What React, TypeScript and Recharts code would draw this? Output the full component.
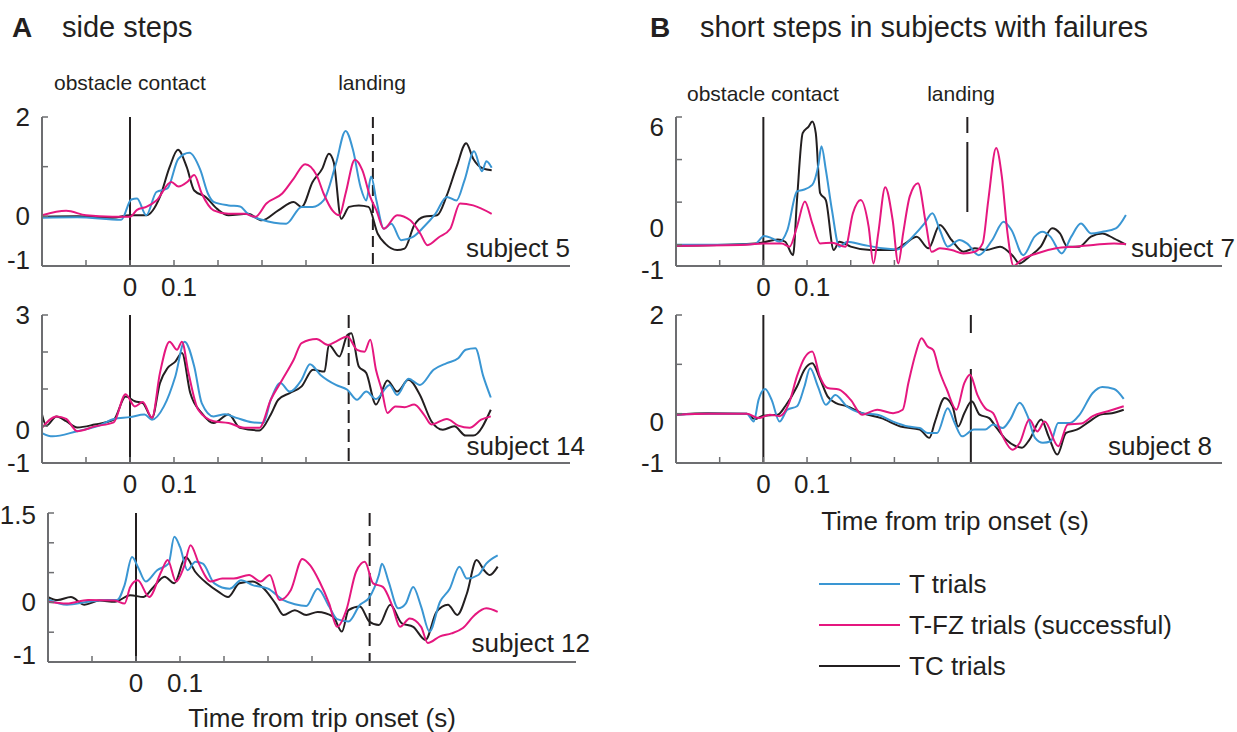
import { LineChart, Line, XAxis, YAxis, ReferenceLine } from "recharts"

const BLUE = "#3a96d3"
const PINK = "#e5177f"
const BLACK = "#231f20"
const AXIS = "#6d6e71"
const TEXT = "#231f20"
const FONT = "'Liberation Sans', Arial, Helvetica, sans-serif"

type Pt = [number, number]

// shared x ticks (s), only 0 and 0.1 get a label
const xTicks = [-0.2, -0.1, 0, 0.1, 0.2, 0.3, 0.4]
const xTickLabels = ["", "", "0", "0.1", "", "", ""]

// ---------- subject 5 (side steps) ----------
const s5T: Pt[] = [[-0.2,-0.03],[-0.12,-0.02],[-0.02,-0.07],[0.003,0.34],[0.016,0.36],[0.037,0.02],[0.06,0.49],[0.085,0.56],[0.11,1.16],[0.135,1.28],[0.16,0.93],[0.177,0.46],[0.19,0.29],[0.224,0.22],[0.25,0.2],[0.268,0.05],[0.3,-0.07],[0.355,-0.15],[0.39,0.19],[0.415,0.19],[0.44,0.32],[0.468,1.06],[0.49,1.72],[0.507,1.33],[0.524,0.59],[0.537,0.32],[0.548,0.8],[0.56,0.32],[0.577,-0.25],[0.594,-0.15],[0.616,-0.48],[0.642,-0.42],[0.668,-0.21],[0.694,0.05],[0.72,0.39],[0.742,0.32],[0.76,0.72],[0.782,1.31],[0.8,0.91],[0.81,1.11],[0.822,0.98]]
const s5FZ: Pt[] = [[-0.2,0.02],[-0.145,0.11],[-0.1,0.02],[-0.04,-0.01],[0,-0.01],[0.016,0.13],[0.037,0.19],[0.06,0.32],[0.094,0.69],[0.11,0.6],[0.13,0.69],[0.146,0.83],[0.163,0.46],[0.19,0.12],[0.224,0.05],[0.26,0.05],[0.285,-0.01],[0.31,0.26],[0.346,0.46],[0.372,0.76],[0.398,1.05],[0.424,0.83],[0.44,0.46],[0.46,0.12],[0.476,0.02],[0.49,0.46],[0.511,1.14],[0.528,0.93],[0.546,0.39],[0.56,0.12],[0.577,-0.25],[0.607,0.02],[0.637,-0.08],[0.66,-0.35],[0.676,-0.58],[0.702,-0.42],[0.728,-0.25],[0.75,0.26],[0.78,0.22],[0.822,0.05]]
const s5TC: Pt[] = [[-0.2,-0.01],[-0.12,0],[-0.04,-0.03],[0,0.02],[0.037,0.02],[0.068,0.39],[0.09,0.99],[0.109,1.34],[0.129,0.99],[0.146,0.52],[0.172,0.39],[0.198,0.15],[0.224,0.02],[0.268,0.05],[0.3,-0.08],[0.337,0.12],[0.372,0.29],[0.39,0.19],[0.415,0.69],[0.437,0.96],[0.452,1.26],[0.463,1.09],[0.48,-0.05],[0.498,0.19],[0.52,0.22],[0.542,0.19],[0.563,-0.35],[0.58,-0.55],[0.607,-0.68],[0.624,-0.65],[0.646,-0.18],[0.668,-0.01],[0.698,0.02],[0.72,0.42],[0.742,0.99],[0.764,1.47],[0.78,1.16],[0.803,0.96],[0.822,0.93]]
const s5YTicks = [-1, 0, 1, 2]
const s5YLabels = ["-1", "0", "", "2"]

// ---------- subject 14 ----------
const s14T: Pt[] = [[-0.2,-0.19],[-0.176,-0.28],[-0.12,-0.14],[-0.07,0.01],[-0.037,0.19],[0,0.24],[0.033,0.31],[0.05,0.17],[0.077,0.53],[0.103,1.34],[0.124,2.28],[0.146,1.61],[0.163,0.62],[0.19,0.26],[0.216,0.32],[0.242,0.22],[0.277,0.1],[0.303,0.08],[0.32,0.71],[0.342,1.16],[0.363,0.93],[0.39,1.25],[0.409,1.67],[0.433,1.38],[0.468,1.11],[0.494,0.98],[0.516,0.71],[0.537,0.93],[0.559,0.73],[0.59,1.11],[0.607,0.84],[0.633,1.28],[0.659,1.11],[0.69,1.52],[0.72,1.7],[0.746,1.83],[0.763,2.06],[0.785,2.1],[0.803,1.34],[0.82,0.77]]
const s14FZ: Pt[] = [[-0.2,-0.05],[-0.167,0.26],[-0.145,0.19],[-0.12,-0.14],[-0.08,-0.01],[-0.037,0.1],[-0.01,0.86],[0.011,0.53],[0.029,0.65],[0.05,0.22],[0.068,1.43],[0.09,2.28],[0.107,2.06],[0.118,2.28],[0.133,1.43],[0.155,0.44],[0.19,0.13],[0.224,0.08],[0.26,-0.05],[0.294,-0.05],[0.32,0.71],[0.346,1.25],[0.372,1.79],[0.39,2.24],[0.424,2.35],[0.45,2.19],[0.468,2.28],[0.494,2.42],[0.516,2.06],[0.533,2.01],[0.546,2.33],[0.559,1.52],[0.572,0.98],[0.585,0.35],[0.603,0.53],[0.624,0.51],[0.646,0.58],[0.668,0.31],[0.685,0.04],[0.72,0.19],[0.746,0.01],[0.772,-0.05],[0.798,0.17],[0.82,0.26]]
const s14TC: Pt[] = [[-0.2,0.31],[-0.19,0.01],[-0.167,0.26],[-0.145,0.13],[-0.12,-0.04],[-0.08,0.04],[-0.037,0.17],[-0.01,0.8],[0.011,0.67],[0.029,0.62],[0.05,0.22],[0.068,1.16],[0.085,1.56],[0.103,1.74],[0.118,1.97],[0.137,0.89],[0.163,0.35],[0.19,0.08],[0.224,0.31],[0.25,-0.05],[0.294,-0.12],[0.32,0.31],[0.337,0.71],[0.363,0.89],[0.39,1.07],[0.416,1.52],[0.442,1.47],[0.452,2.19],[0.476,1.88],[0.494,2.46],[0.503,2.51],[0.52,1.61],[0.537,1.43],[0.559,0.58],[0.585,1.23],[0.607,0.93],[0.633,1.25],[0.659,0.84],[0.685,0.13],[0.711,-0.1],[0.737,-0.01],[0.763,-0.26],[0.78,-0.26],[0.82,0.44]]
const s14YTicks = [-1, 0, 1, 2, 3]
const s14YLabels = ["-1", "0", "", "", "3"]

// ---------- subject 12 ----------
const s12T: Pt[] = [[-0.2,0.05],[-0.157,-0.04],[-0.109,0.01],[-0.065,0.04],[-0.043,0.04],[-0.026,0.29],[-0.009,0.76],[0.004,0.6],[0.022,0.35],[0.048,0.54],[0.074,0.65],[0.087,1.1],[0.1,0.93],[0.117,0.54],[0.135,0.68],[0.152,0.65],[0.178,0.32],[0.213,0.23],[0.239,0.37],[0.265,0.29],[0.3,0.23],[0.335,0.04],[0.361,-0.03],[0.387,-0.06],[0.413,0.23],[0.439,-0.07],[0.457,-0.28],[0.483,-0.32],[0.509,-0.04],[0.53,0.08],[0.552,0.46],[0.559,0.65],[0.574,0.35],[0.596,-0.1],[0.613,-0.02],[0.63,0.26],[0.648,-0.07],[0.667,-0.49],[0.691,0.01],[0.713,0.23],[0.735,0.6],[0.752,0.4],[0.778,0.46],[0.796,0.65],[0.822,0.79]]
const s12FZ: Pt[] = [[-0.2,0.01],[-0.157,-0.02],[-0.109,0.04],[-0.048,0.03],[-0.026,-0.02],[-0.013,0.26],[0.004,0.37],[0.03,0.09],[0.057,0.51],[0.072,0.71],[0.091,0.35],[0.109,0.6],[0.124,0.96],[0.143,0.65],[0.17,0.35],[0.196,0.4],[0.222,0.4],[0.257,0.46],[0.283,0.35],[0.304,0.46],[0.326,0.04],[0.352,0.21],[0.378,0.73],[0.396,0.62],[0.417,0.35],[0.439,-0.02],[0.457,-0.41],[0.478,-0.13],[0.5,0.51],[0.52,0.68],[0.539,0.32],[0.561,0.26],[0.583,-0.07],[0.6,-0.41],[0.622,-0.27],[0.648,-0.41],[0.663,-0.68],[0.691,-0.57],[0.717,-0.52],[0.743,-0.43],[0.77,-0.21],[0.796,-0.1],[0.822,-0.16]]
const s12TC: Pt[] = [[-0.2,0.09],[-0.178,0.04],[-0.148,0.09],[-0.117,-0.04],[-0.083,0.03],[-0.048,0.01],[-0.013,0.12],[0.017,0.09],[0.039,0.25],[0.065,0.43],[0.087,0.32],[0.113,0.76],[0.135,0.51],[0.161,0.32],[0.187,0.18],[0.209,0.09],[0.235,0.32],[0.265,0.35],[0.291,0.23],[0.317,-0.02],[0.335,-0.21],[0.361,-0.13],[0.387,-0.21],[0.413,-0.16],[0.448,-0.24],[0.468,-0.49],[0.483,-0.13],[0.509,-0.07],[0.53,-0.32],[0.552,-0.38],[0.578,-0.04],[0.604,-0.35],[0.63,-0.41],[0.658,-0.63],[0.683,-0.16],[0.709,-0.04],[0.73,-0.21],[0.752,0.15],[0.774,0.71],[0.791,0.54],[0.804,0.46],[0.822,0.6]]
const s12YTicks = [-1, -0.5, 0, 0.5, 1, 1.5]
const s12YLabels = ["-1", "", "0", "", "", "1.5"]

// ---------- subject 7 (short steps, failures) ----------
const s7T: Pt[] = [[-0.2,0],[-0.08,0],[-0.02,0.03],[0.002,0.41],[0.02,0.3],[0.037,0.14],[0.055,0.69],[0.077,2.5],[0.09,2.57],[0.112,2.81],[0.126,3.75],[0.133,4.62],[0.143,3.52],[0.157,1.63],[0.174,-0.09],[0.192,0.14],[0.227,0],[0.272,-0.17],[0.307,-0.22],[0.342,0.38],[0.369,1.0],[0.387,1.48],[0.404,0.69],[0.422,-0.09],[0.449,0.22],[0.466,0.06],[0.493,-0.49],[0.524,0.22],[0.55,1.08],[0.568,0.69],[0.595,-0.49],[0.621,0.38],[0.639,0.61],[0.657,0.38],[0.683,-0.41],[0.705,0.38],[0.727,1.0],[0.75,0.53],[0.776,0.61],[0.807,0.77],[0.83,1.4]]
const s7FZ: Pt[] = [[-0.2,-0.05],[-0.038,0],[0,0.06],[0.042,0.06],[0.06,-0.09],[0.077,0.85],[0.095,2.03],[0.112,1.0],[0.13,0.06],[0.157,0.09],[0.188,-0.09],[0.205,1.48],[0.223,2.1],[0.241,0.85],[0.252,-0.88],[0.263,0.53],[0.279,2.7],[0.296,1.16],[0.309,-0.88],[0.32,0.53],[0.335,2.26],[0.354,2.89],[0.372,1.0],[0.385,-0.33],[0.404,-0.17],[0.431,-0.25],[0.458,-0.41],[0.484,-0.33],[0.502,0.06],[0.515,2.1],[0.533,4.54],[0.546,3.2],[0.559,0.53],[0.573,-1],[0.59,-0.72],[0.626,-0.41],[0.67,-0.17],[0.715,-0.09],[0.76,0],[0.803,0.06],[0.83,0.03]]
const s7TC: Pt[] = [[-0.2,-0.05],[-0.038,0.03],[0,0.11],[0.033,0.25],[0.05,0.14],[0.068,-0.49],[0.077,2.1],[0.09,5.24],[0.104,5.56],[0.112,5.79],[0.12,5.24],[0.13,2.42],[0.143,2.1],[0.161,-0.25],[0.174,0.14],[0.2,-0.09],[0.245,-0.25],[0.298,-0.25],[0.325,0.06],[0.351,0.38],[0.378,-0.17],[0.404,0.93],[0.431,0.22],[0.458,-0.33],[0.484,-0.17],[0.51,-0.25],[0.542,-0.09],[0.573,-0.57],[0.586,-0.88],[0.608,-0.57],[0.635,-0.09],[0.661,0.77],[0.679,0.53],[0.696,-0.09],[0.723,-0.09],[0.75,0.38],[0.776,0.53],[0.802,0.3],[0.83,0]]
const s7YTicks = [-1, 0, 2, 4, 6]
const s7YLabels = ["-1", "0", "", "", "6"]

// ---------- subject 8 ----------
const s8T: Pt[] = [[-0.2,-0.02],[-0.126,0],[-0.038,0],[-0.022,-0.16],[-0.011,0.28],[0.004,0.5],[0.019,0.28],[0.037,-0.16],[0.055,0.08],[0.077,0.15],[0.094,0.55],[0.107,0.92],[0.125,0.55],[0.143,0.18],[0.165,0.38],[0.191,0.15],[0.226,0.01],[0.261,-0.02],[0.297,-0.16],[0.332,-0.26],[0.358,-0.29],[0.376,-0.39],[0.398,-0.39],[0.422,0.11],[0.438,-0.19],[0.455,-0.46],[0.482,-0.32],[0.508,-0.32],[0.526,-0.22],[0.548,-0.29],[0.565,-0.12],[0.587,0.22],[0.605,-0.05],[0.622,-0.49],[0.64,-0.59],[0.658,-0.56],[0.675,-0.19],[0.702,-0.19],[0.724,-0.02],[0.754,0.42],[0.776,0.54],[0.803,0.5],[0.825,0.3]]
const s8FZ: Pt[] = [[-0.2,-0.02],[-0.126,0],[-0.038,0],[-0.011,-0.09],[0.015,-0.02],[0.037,-0.05],[0.059,0.22],[0.077,0.76],[0.094,1.13],[0.112,1.26],[0.129,0.76],[0.147,0.52],[0.173,0.49],[0.2,0.28],[0.226,-0.02],[0.261,0.08],[0.297,0.01],[0.319,0.08],[0.332,0.62],[0.349,1.23],[0.362,1.53],[0.376,1.36],[0.389,1.29],[0.402,0.89],[0.42,0.49],[0.442,0.08],[0.46,0.62],[0.473,0.79],[0.49,0.38],[0.508,0.11],[0.526,0.01],[0.548,-0.46],[0.57,-0.73],[0.587,-0.59],[0.609,-0.12],[0.627,-0.36],[0.644,-0.16],[0.675,-0.66],[0.697,-0.22],[0.728,-0.2],[0.754,-0.05],[0.789,0.05],[0.825,0.15]]
const s8TC: Pt[] = [[-0.2,-0.02],[-0.126,0.01],[-0.038,0],[-0.02,-0.11],[0,-0.04],[0.033,-0.02],[0.05,0.15],[0.077,0.55],[0.094,0.89],[0.112,1.02],[0.129,0.72],[0.147,0.35],[0.165,0.22],[0.191,0.15],[0.226,0.01],[0.27,-0.09],[0.314,-0.26],[0.358,-0.32],[0.38,-0.49],[0.393,-0.16],[0.415,0.32],[0.433,0.15],[0.446,-0.26],[0.46,0.01],[0.477,0.25],[0.495,-0.02],[0.517,-0.09],[0.534,-0.29],[0.556,-0.53],[0.578,-0.66],[0.592,-0.69],[0.609,-0.53],[0.636,-0.12],[0.653,-0.46],[0.673,-0.83],[0.693,-0.39],[0.719,-0.32],[0.746,-0.16],[0.772,-0.02],[0.798,0.01],[0.825,0.08]]
const s8YTicks = [-1, 0, 1, 2]
const s8YLabels = ["-1", "0", "", "2"]

// legend
const seriesNames = ["T trials", "T-FZ trials (successful)", "TC trials"]
const seriesColors = [BLUE, PINK, BLACK]

const panels = [
  { name: "subject 5", T: s5T, FZ: s5FZ, TC: s5TC, yDomain: [-1, 2], yTicks: s5YTicks, yLabels: s5YLabels, landing: 0.552,
    box: { x: 42, y: 117, w: 528, h: 149 }, xMax: 1.0, yDy: [-6, 0, 0, 0], dash: "11 6", landTop: 2,
    label: { x: 570, y: 257 } },
  { name: "subject 14", T: s14T, FZ: s14FZ, TC: s14TC, yDomain: [-1, 3], yTicks: s14YTicks, yLabels: s14YLabels, landing: 0.497,
    box: { x: 42, y: 315, w: 528, h: 148 }, xMax: 1.0, yDy: [0, 4, 0, 0, 0], dash: "13 6", landTop: 3,
    label: { x: 585, y: 455 } },
  { name: "subject 12", T: s12T, FZ: s12FZ, TC: s12TC, yDomain: [-1, 1.5], yTicks: s12YTicks, yLabels: s12YLabels, landing: 0.531,
    box: { x: 48, y: 513, w: 528, h: 149 }, xMax: 1.0, yDy: [-7, 0, 0, 0, 0, 2], dash: "13 7", landTop: 1.5,
    label: { x: 590, y: 652 } },
  { name: "subject 7", T: s7T, FZ: s7FZ, TC: s7TC, yDomain: [-1, 6], yTicks: s7YTicks, yLabels: s7YLabels, landing: 0.467,
    box: { x: 676, y: 117, w: 546, h: 149 }, xMax: 1.05, yDy: [4, -17, 0, 0, 10], dash: "16 9 70 300", landTop: 6, landBottom: 1.5,
    label: { x: 1235, y: 257 } },
  { name: "subject 8", T: s8T, FZ: s8FZ, TC: s8TC, yDomain: [-1, 2], yTicks: s8YTicks, yLabels: s8YLabels, landing: 0.475,
    box: { x: 676, y: 315, w: 546, h: 148 }, xMax: 1.05, yDy: [0, 8, 0, 0], dash: "18 36 300", landTop: 2,
    label: { x: 1212, y: 455 } },
]

const toRows = (arr: Pt[]) => arr.map(([t, v]) => ({ t, v }))

const PAD_L = 60
const PAD_T = 30
const PAD_R = 12
const PAD_B = 50
const X_LABEL_DX = [0, 0, 0, 5, 0, 0, 0]

function Subplot({ p }: { p: any }) {
  const { x, y, w, h } = p.box
  const yTick = (props: any) => {
    const i = p.yTicks.indexOf(props.payload.value)
    const label = p.yLabels[i]
    return (
      <g>
        <line x1={props.x} y1={props.y} x2={props.x + 6} y2={props.y} stroke={AXIS} strokeWidth={1.5} />
        {label ? (
          <text x={props.x - 12} y={props.y + (p.yDy[i] || 0)} textAnchor="end" dominantBaseline="central"
            fontSize={26} fill={TEXT} fontFamily={FONT}>{label}</text>
        ) : null}
      </g>
    )
  }
  const xTick = (props: any) => {
    const i = xTicks.indexOf(props.payload.value)
    const label = xTickLabels[i]
    return (
      <g>
        <line x1={props.x} y1={props.y} x2={props.x} y2={props.y - 6} stroke={AXIS} strokeWidth={1.5} />
        {label ? (
          <text x={props.x + X_LABEL_DX[i]} y={props.y + 30} textAnchor="middle" fontSize={26} fill={TEXT} fontFamily={FONT}>{label}</text>
        ) : null}
      </g>
    )
  }
  // dash pattern starts at the top of the axes, as in the figure
  const landingSeg = [{ x: p.landing, y: p.landTop }, { x: p.landing, y: p.landBottom ?? p.yDomain[0] }]
  return (
    <div style={{ position: "absolute", left: x - PAD_L, top: y - PAD_T }}>
      <LineChart width={w + PAD_L + PAD_R} height={h + PAD_T + PAD_B}
        margin={{ top: PAD_T, right: PAD_R, left: 0, bottom: 0 }}>
        <XAxis type="number" dataKey="t" domain={[-0.2, p.xMax]} ticks={xTicks} interval={0} allowDataOverflow
          height={PAD_B} tickSize={0} tickMargin={0} tickLine={false}
          axisLine={{ stroke: AXIS, strokeWidth: 2 }} tick={xTick} />
        <YAxis type="number" dataKey="v" domain={p.yDomain} ticks={p.yTicks} interval={0} allowDataOverflow
          width={PAD_L} tickSize={0} tickMargin={0} tickLine={false}
          axisLine={{ stroke: AXIS, strokeWidth: 2 }} tick={yTick} />
        <ReferenceLine x={0} stroke={BLACK} strokeWidth={2} />
        <ReferenceLine segment={landingSeg} stroke={BLACK} strokeWidth={2} strokeDasharray={p.dash} />
        <Line type="monotone" data={toRows(p.TC)} dataKey="v" stroke={BLACK} strokeWidth={2} dot={false} isAnimationActive={false} />
        <Line type="monotone" data={toRows(p.T)} dataKey="v" stroke={BLUE} strokeWidth={2} dot={false} isAnimationActive={false} />
        <Line type="monotone" data={toRows(p.FZ)} dataKey="v" stroke={PINK} strokeWidth={2} dot={false} isAnimationActive={false} />
      </LineChart>
    </div>
  )
}

export default function App() {
  return (
    <div style={{ position: "absolute", left: 0, top: 0, width: 1237, height: 732, background: "#fff", fontFamily: FONT }}>
      {panels.map((p) => <Subplot key={p.name} p={p} />)}
      <svg width={1237} height={732} style={{ position: "absolute", left: 0, top: 0, pointerEvents: "none" }}>
        <g fontFamily={FONT} fill={TEXT}>
          <text x={12} y={37} fontSize={28} fontWeight="bold">A</text>
          <text x={62} y={37} fontSize={29}>side steps</text>
          <text x={650} y={37} fontSize={28} fontWeight="bold">B</text>
          <text x={700} y={37} fontSize={29}>short steps in subjects with failures</text>

          <text x={54} y={90} fontSize={21}>obstacle contact</text>
          <text x={372} y={90} fontSize={21} textAnchor="middle">landing</text>
          <text x={687} y={101} fontSize={21}>obstacle contact</text>
          <text x={961} y={101} fontSize={21} textAnchor="middle">landing</text>

          {panels.map((p) => (
            <text key={p.name} x={p.label.x} y={p.label.y} fontSize={26} textAnchor="end">{p.name}</text>
          ))}

          <text x={322} y={727} fontSize={26} textAnchor="middle">Time from trip onset (s)</text>
          <text x={955} y={530} fontSize={26} textAnchor="middle">Time from trip onset (s)</text>

          {seriesNames.map((n, i) => (
            <g key={n}>
              <line x1={819} x2={900} y1={584 + i * 41} y2={584 + i * 41} stroke={seriesColors[i]} strokeWidth={2} />
              <text x={909} y={584 + i * 41 + 9} fontSize={26}>{n}</text>
            </g>
          ))}
        </g>
      </svg>
    </div>
  )
}
